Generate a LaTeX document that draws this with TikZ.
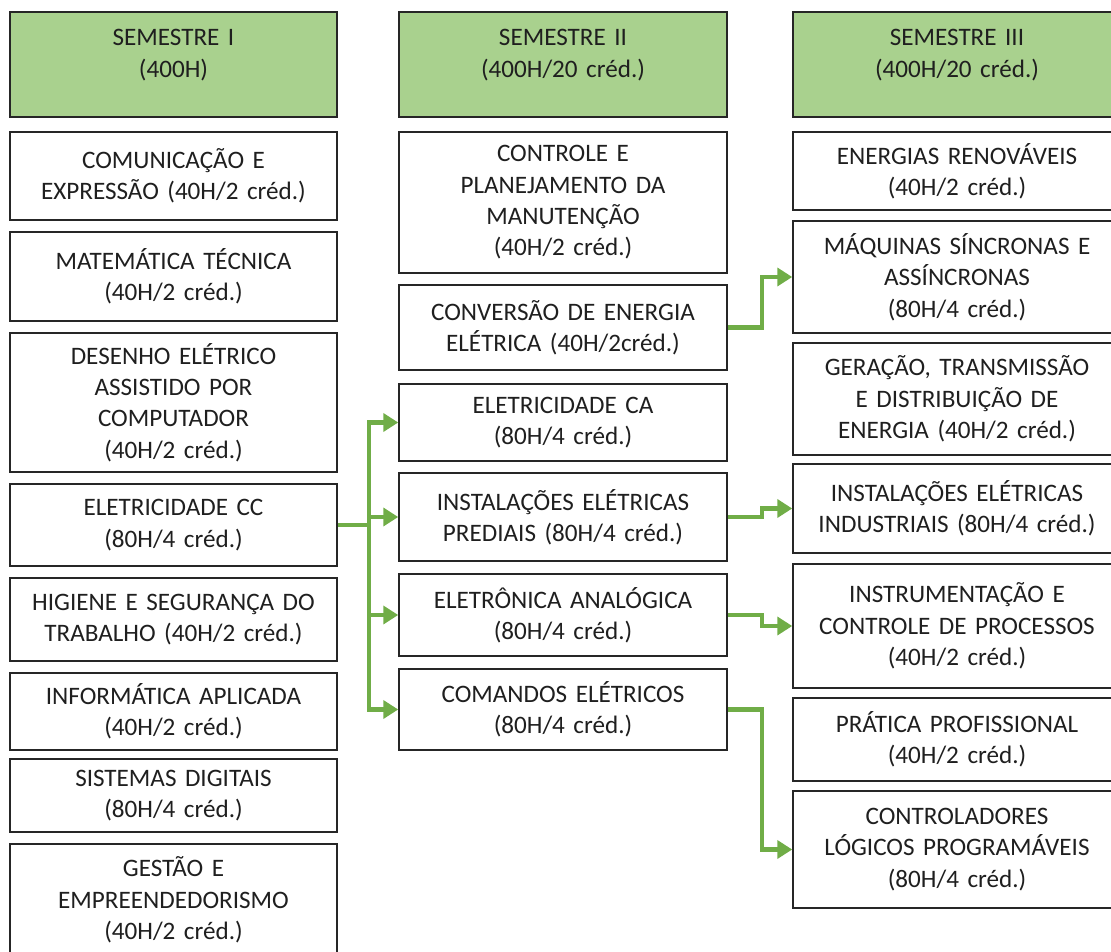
\documentclass[tikz,border=0pt]{standalone}
\usepackage{fontspec}
\setmainfont{Carlito}[WordSpace=1.5]
\usetikzlibrary{arrows.meta}
\definecolor{headgreen}{HTML}{A9D18E}
\definecolor{linkgreen}{HTML}{70AD47}

\begin{document}
\begin{tikzpicture}[x=0.02cm, y=-0.02cm,
  txt/.style={align=center, text=black!88, font=\fontsize{14.3}{17.8}\selectfont},
  box/.style={txt, draw=black!85, line width=0.9pt, fill=white, inner sep=0pt},
  head/.style={box, fill=headgreen, minimum height=2.1cm},
  colA/.style={minimum width=6.54cm},
  colB/.style={minimum width=6.56cm},
  colC/.style={minimum width=6.56cm},
  link/.style={draw=linkgreen, line width=2.3pt},
  arr/.style={link, -{Triangle[length=0.3cm, width=0.36cm]}}]
  \useasboundingbox (0,0) rectangle (1111,952);

  \node[head, colA] (sem1) at (173.5,64.5) {};
  \node[head, colB] (sem2) at (563,64.5) {};
  \node[head, colC] (sem3) at (957,64.5) {};
  \node[txt] (sem1txt) at ([yshift=0.19cm]sem1.center) {SEMESTRE I\\(400H)};
  \node[txt] (sem2txt) at ([yshift=0.19cm]sem2.center) {SEMESTRE II\\(400H/20 créd.)};
  \node[txt] (sem3txt) at ([yshift=0.19cm]sem3.center) {SEMESTRE III\\(400H/20 créd.)};

  \node[box, colA, minimum height=1.76cm] (com) at (173.5,176) {COMUNICAÇÃO E\\EXPRESSÃO (40H/2 créd.)};
  \node[box, colA, minimum height=1.78cm] (mat) at (173.5,276.5) {MATEMÁTICA TÉCNICA\\(40H/2 créd.)};
  \node[box, colA, minimum height=2.78cm] (des) at (173.5,402.5) {DESENHO ELÉTRICO\\ASSISTIDO POR\\COMPUTADOR\\(40H/2 créd.)};
  \node[box, colA, minimum height=1.64cm] (cc) at (173.5,525) {ELETRICIDADE CC\\(80H/4 créd.)};
  \node[box, colA, minimum height=1.66cm] (hig) at (173.5,619.5) {HIGIENE E SEGURANÇA DO\\TRABALHO (40H/2 créd.)};
  \node[box, colA, minimum height=1.54cm] (inf) at (173.5,711.5) {INFORMÁTICA APLICADA\\(40H/2 créd.)};
  \node[box, colA, minimum height=1.46cm] (sis) at (173.5,795.5) {SISTEMAS DIGITAIS\\(80H/4 créd.)};
  \node[box, colA, minimum height=2.24cm] (ges) at (173.5,900) {GESTÃO E\\EMPREENDEDORISMO\\(40H/2 créd.)};

  \node[box, colB, minimum height=2.82cm] (ctl) at (563,202.5) {CONTROLE E\\PLANEJAMENTO DA\\MANUTENÇÃO\\(40H/2 créd.)};
  \node[box, colB, minimum height=1.70cm] (conv) at (563,327.5) {CONVERSÃO DE ENERGIA\\ELÉTRICA (40H/2créd.)};
  \node[box, colB, minimum height=1.54cm] (ca) at (563,422.5) {ELETRICIDADE CA\\(80H/4 créd.)};
  \node[box, colB, minimum height=1.76cm] (pred) at (563,517) {INSTALAÇÕES ELÉTRICAS\\PREDIAIS (80H/4 créd.)};
  \node[box, colB, minimum height=1.64cm] (elet) at (563,615) {ELETRÔNICA ANALÓGICA\\(80H/4 créd.)};
  \node[box, colB, minimum height=1.62cm] (cmd) at (563,709.5) {COMANDOS ELÉTRICOS\\(80H/4 créd.)};

  \node[box, colC, minimum height=1.56cm] (ener) at (957,171) {ENERGIAS RENOVÁVEIS\\(40H/2 créd.)};
  \node[box, colC, minimum height=2.24cm] (maq) at (957,277) {MÁQUINAS SÍNCRONAS E\\ASSÍNCRONAS\\(80H/4 créd.)};
  \node[box, colC, minimum height=2.24cm] (ger) at (957,399) {GERAÇÃO, TRANSMISSÃO\\E DISTRIBUIÇÃO DE\\ENERGIA (40H/2 créd.)};
  \node[box, colC, minimum height=1.78cm] (ind) at (957,508.5) {INSTALAÇÕES ELÉTRICAS\\INDUSTRIAIS (80H/4 créd.)};
  \node[box, colC, minimum height=2.48cm] (instr) at (957,626) {INSTRUMENTAÇÃO E\\CONTROLE DE PROCESSOS\\(40H/2 créd.)};
  \node[box, colC, minimum height=1.66cm] (prat) at (957,739.5) {PRÁTICA PROFISSIONAL\\(40H/2 créd.)};
  \node[box, colC, minimum height=2.34cm] (clp) at (957,849.5) {CONTROLADORES\\LÓGICOS PROGRAMÁVEIS\\(80H/4 créd.)};

  \coordinate (bus) at ([xshift=0.62cm]cc.east);
  \draw[link] (cc.east) -- (bus);
  \foreach \t in {ca,pred,elet,cmd}
    \draw[arr] (bus) |- (\t.west);

  \draw[arr] (conv.east) -- ++(34,0) |- (maq.west);
  \draw[arr] (pred.east) -- ++(34,0) |- (ind.west);
  \draw[arr] (elet.east) -- ++(34,0) |- (instr.west);
  \draw[arr] (cmd.east) -- ++(34,0) |- (clp.west);
\end{tikzpicture}
\end{document}
